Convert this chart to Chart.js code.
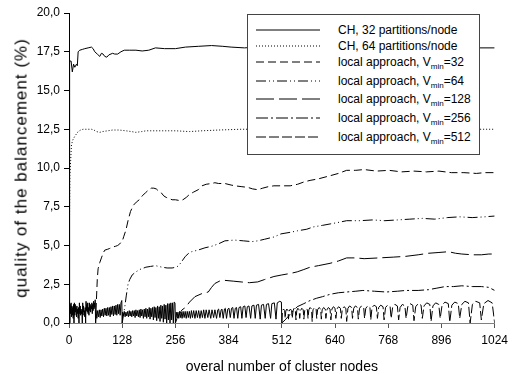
<!DOCTYPE html>
<html>
<head>
<meta charset="utf-8">
<script src="https://cdn.jsdelivr.net/npm/chart.js@4/dist/chart.umd.min.js"></script>
<style>
  html, body { margin: 0; padding: 0; background: #fff; }
  #wrap { position: relative; width: 513px; height: 374px; overflow: hidden; }
  #chart { display: block; }
  #ytitle {
    position: absolute; left: 21px; top: 168px;
    transform: translate(-50%, -50%) rotate(-90deg);
    font-family: 'Liberation Sans', Arial, sans-serif; font-size: 17px; letter-spacing: 1px;
    white-space: nowrap; color: #000; line-height: 17px;
  }
  #legend {
    position: absolute; left: 247px; top: 14px; width: 231px; height: 139px;
    border: 1px solid #444; background: #fff;
    font-family: 'Liberation Sans', Arial, sans-serif; font-size: 12px; color: #000;
  }
  #legend svg { position: absolute; left: 8px; width: 64px; height: 4px; overflow: visible; }
  #legend span { position: absolute; left: 90px; line-height: 14px; white-space: nowrap; }
  #legend sub { font-size: 8px; vertical-align: -3px; line-height: 0; }
</style>
</head>
<body>
<div id="wrap">
  <canvas id="chart" width="513" height="374"></canvas>
  <div id="ytitle">quality of the balancement (%)</div>
  <div id="legend"></div>
</div>
<script>
// Axis ticks
const nodeTicks = [0, 128, 256, 384, 512, 640, 768, 896, 1024];
const qualityTicks = [0, 2.5, 5, 7.5, 10, 12.5, 15, 17.5, 20];

// Consistent hashing, 32 partitions per node
const ch32Nodes = [0,1,2,5,8,11,14,18,20,22,26,32,38,46,54,58,62,68,74,78,82,86,91,96,105,110,117,125,133,145,161,176,192,208,230,256,280,311,343,370,390,422,450,500,560,620,700,780,860,940,1024];
const ch32Values = [0.2,8,16.9,16.9,16.2,16.7,16.5,16.7,16.6,17.5,17.6,17.65,17.7,17.75,17.8,17.7,17.5,17.35,17.2,17.4,17.35,17.2,17.15,17.3,17.4,17.35,17.35,17.5,17.6,17.6,17.6,17.55,17.6,17.75,17.7,17.7,17.8,17.85,17.9,17.85,17.8,17.75,17.8,17.8,17.8,17.75,17.75,17.75,17.75,17.75,17.75];

// Consistent hashing, 64 partitions per node
const ch64Nodes = [0,1,2,4,6,9,14,18,22,28,34,44,54,60,66,74,81,93,105,120,137,150,161,175,185,220,256,290,320,360,414,460,520,600,700,800,900,1024];
const ch64Values = [0,6,9.5,10.5,11.5,11.8,12.05,12.2,12.35,12.45,12.5,12.5,12.5,12.45,12.35,12.3,12.35,12.4,12.45,12.45,12.4,12.35,12.3,12.35,12.4,12.4,12.4,12.35,12.4,12.45,12.5,12.5,12.5,12.5,12.5,12.5,12.5,12.5];

// Local approach, Vmin = 32
const vmin32Nodes = [64,66,68,70,74,78,82,86,92,97,105,112,117,122,129,132,137,142,148,155,162,169,176,184,192,198,204,210,216,222,228,234,240,248,256,266,274,282,290,300,311,320,330,343,351,360,375,390,400,414,430,442,454,466,480,493,510,532,550,565,580,600,628,648,668,690,710,740,770,800,830,860,890,920,950,980,1000,1024];
const vmin32Values = [0,1.5,2.8,3.5,3.9,4.2,4.5,4.7,4.75,4.8,4.9,4.95,5.0,5.1,5.35,5.6,6.0,6.6,7.2,7.6,7.8,7.95,8.2,8.4,8.6,8.7,8.7,8.65,8.5,8.4,8.2,8.1,8.05,7.95,7.95,7.9,7.95,8.1,8.3,8.45,8.6,8.85,8.95,9.0,9.05,9.0,9.0,8.9,8.85,8.8,8.75,8.65,8.6,8.7,8.8,8.85,8.85,8.85,8.95,9.1,9.2,9.3,9.5,9.65,9.85,9.85,9.9,9.8,9.85,9.75,9.8,9.75,9.8,9.7,9.7,9.65,9.7,9.7];

// Local approach, Vmin = 64
const vmin64Nodes = [128,131,134,138,142,146,152,161,170,185,196,208,216,224,236,248,258,264,272,280,288,295,310,327,343,359,375,398,420,440,454,470,493,510,532,550,572,588,610,630,650,668,700,730,760,790,820,850,880,910,940,970,1000,1024];
const vmin64Values = [0,0.5,1.0,1.8,2.5,2.8,3.1,3.3,3.45,3.6,3.65,3.7,3.65,3.6,3.55,3.55,3.6,3.7,4.0,4.3,4.5,4.6,4.7,4.85,4.95,5.1,5.3,5.35,5.3,5.25,5.3,5.4,5.55,5.75,5.85,5.95,6.05,6.2,6.3,6.4,6.5,6.6,6.6,6.65,6.6,6.65,6.7,6.75,6.7,6.8,6.85,6.8,6.85,6.9];

// Local approach, Vmin = 128
const vmin128Nodes = [256,260,266,272,280,290,303,320,335,343,351,362,375,395,414,434,454,470,493,512,533,549,565,580,600,628,648,668,690,710,746,780,810,840,865,890,913,930,945,970,992,1010,1024];
const vmin128Values = [0,0.3,0.6,0.85,1.0,1.35,1.7,1.9,2.0,2.3,2.55,2.7,2.75,2.7,2.65,2.6,2.65,2.8,3.0,3.1,3.2,3.3,3.45,3.6,3.7,3.85,4.0,4.2,4.2,4.15,4.2,4.25,4.3,4.4,4.5,4.55,4.6,4.5,4.45,4.4,4.4,4.45,4.45];

// Local approach, Vmin = 256
const vmin256Nodes = [512,520,530,540,549,565,580,596,610,628,648,668,690,707,735,763,790,810,840,865,885,905,925,945,970,992,1010,1024];
const vmin256Values = [0,0.2,0.5,0.8,1.05,1.25,1.45,1.6,1.7,1.85,1.95,2.0,2.05,2.1,2.05,2.0,2.05,2.1,2.1,2.15,2.25,2.35,2.35,2.4,2.35,2.35,2.3,2.1];

// Local approach, Vmin = 512: [nodes, quality] readings, sawtooth below 512 nodes, arches above
const vmin512Trace = [
  [0,0],[1,1.3],[2,0],[3,1.2],[4,0.6],[5,1.3],[6,0.4],[7,1.1],[8,0.5],[9,1.0],[10,0.3],[11,1.2],[12,0],[13,1.3],[14,0.5],[15,1.2],[16,0.7],[17,1.0],[18,0.4],[19,1.1],[20,0.6],[21,0.9],[22,0.3],[23,1.0],[24,0],[25,1.3],[26,0.6],[27,1.1],[28,0.5],[29,0.9],[30,0.6],[31,0.8],[32,0],[33,1.3],[34,0.7],[35,1.1],[36,0.5],[37,0.8],[38,0.4],[39,1.0],[40,0],[41,1.4],[42,0.8],[43,1.2],[44,0.7],[45,1.3],[46,0.6],[47,1.0],[48,0.5],[49,1.3],[50,0.8],[51,1.2],[52,0.7],[53,1.1],[54,0.9],[55,1.3],[56,0.6],[57,1.2],[58,0.8],[59,1.4],[60,0.9],[61,1.3],[62,1.0],[63,1.5],[64,0],
  [65,0.8],[67,0.3],[69,0.8],[71,0.4],[73,0.85],[75,0.35],[77,0.85],[79,0.45],[81,0.9],[83,0.4],[85,0.95],[87,0.5],[89,0.95],[91,0.45],[93,1.0],[95,0.5],[97,1.0],[99,0.4],[101,1.05],[103,0.55],[105,1.1],[107,0.45],[109,1.1],[111,0.55],[113,1.15],[115,0.5],[117,1.2],[119,0.6],[121,1.2],[123,0.5],[125,1.3],[127,1.45],[128,0],
  [129,0.7],[131,0.45],[133,0.75],[135,0.4],[137,0.7],[139,0.45],[141,0.75],[143,0.4],[145,0.8],[147,0.45],[149,0.75],[151,0.4],[153,0.8],[155,0.45],[157,0.8],[159,0.35],[161,0.85],[163,0.45],[165,0.8],[167,0.4],[169,0.85],[171,0.35],[173,0.9],[175,0.45],[177,0.85],[179,0.3],[181,0.9],[183,0.4],[185,0.95],[187,0.3],[189,0.9],[191,0.4],[193,1.0],[195,0.25],[197,0.95],[199,0.4],[201,1.0],[203,0.2],[205,1.05],[207,0.35],[209,1.0],[211,0.15],[213,1.1],[215,0.3],[217,1.05],[219,0.1],[221,1.15],[223,0.3],[225,1.1],[227,0.05],[229,1.2],[231,0.25],[233,1.15],[235,0],[237,1.25],[239,0.2],[241,1.25],[243,0],[245,1.3],[247,0.2],[249,1.3],[251,0],[253,1.35],[255,1.3],[256,0],
  [258,0.7],[260,0.35],[262,0.7],[264,0.3],[266,0.75],[268,0.35],[270,0.7],[272,0.3],[274.5,0.75],[277,0.35],[279.5,0.75],[282,0.3],[284.5,0.75],[287,0.35],[289.5,0.75],[292,0.3],[294.5,0.8],[297,0.35],[300,0.8],[303,0.3],[306,0.8],[309,0.35],[312,0.8],[315,0.3],[318,0.8],[321,0.35],[324,0.85],[327,0.3],[330,0.85],[334,0.35],[337,0.85],[341,0.3],[344,0.85],[348,0.35],[351,0.85],[355,0.3],[358,0.85],[360,0.9],[363,0.35],[366,0.85],[368,0.9],[371,0.3],[374,0.9],[376,0.95],[379,0.3],[382,0.9],[385,0.95],[388,0.35],[391,0.95],[394,1.0],[397,0.3],[400,0.95],[403,1.0],[406,0.3],[409,1.0],[413,1.05],[416,0.3],[419,1.05],[423,1.1],[426,0.35],[429,1.05],[433,1.1],[437,0.3],[440,1.1],[445,1.15],[448,0.3],[451,1.15],[456,1.2],[460,0.25],[463,1.15],[468,1.2],[472,0.3],[475,1.2],[480,1.25],[485,0.3],[488,1.25],[494,1.3],[498,0.25],[501,1.3],[507,1.4],[511,1.35],
  [512,0],[513.6,0.77],[516,0.9],[518.8,0.81],[520,0.3],[521.6,0.77],[524,0.9],[526.8,0.81],[528,0.25],[530,0.77],[532.5,0.9],[535.5,0.81],[537,0.3],[539,0.8],[541.5,0.95],[544.5,0.85],[546,0.2],[548,0.8],[550.5,0.95],[553.5,0.85],[555,0.3],[557,0.8],[560,0.95],[563.5,0.85],[565,0.25],[567,0.8],[570,0.95],[573.5,0.85],[575,0.3],[577,0.85],[580,1.0],[583.5,0.9],[585,0.1],[587,0.85],[590.5,1.0],[594.5,0.9],[596,0.3],[598,0.85],[601.5,1.0],[605.5,0.9],[607,0.25],[609,0.85],[612.5,1.0],[616.5,0.9],[618,0.3],[620.5,0.85],[624,1.0],[628,0.9],[630,0.2],[632.5,0.9],[636,1.05],[640,0.95],[642,0.3],[644.5,0.9],[648.5,1.05],[653,0.95],[655,0.3],[657.5,0.9],[661.5,1.05],[666,0.95],[668,0.1],[671,0.95],[675,1.1],[680,1.0],[682,0.3],[685,0.95],[689,1.1],[694,1.0],[696,0.25],[699,0.95],[703.5,1.1],[709,1.0],[711,0.3],[714,0.95],[718.5,1.1],[724,1.0],[726,0.2],[729,1.0],[734,1.15],[739.5,1.05],[742,0.3],[745,1.0],[750,1.15],[755.5,1.05],[758,0.2],[761.5,1.0],[766.5,1.15],[772.5,1.05],[775,0.3],[778.5,1.0],[784,1.2],[790,1.1],[793,0.2],[796.5,1.0],[802,1.2],[808,1.1],[811,0.3],[815,1.05],[820.5,1.25],[827,1.15],[830,0.15],[834,1.05],[840,1.25],[847,1.15],[850,0.3],[854,1.1],[860.5,1.3],[868,1.2],[871,0.1],[875.5,1.1],[882,1.3],[889.5,1.2],[893,0.3],[897.5,1.15],[904.5,1.35],[912.5,1.25],[916,0.05],[921,1.15],[928,1.35],[936.5,1.25],[940,0.3],[945,1.2],[952.5,1.4],[961,1.3],[965,0],[970.5,1.2],[978.5,1.4],[988,1.3],[992,0.2],[998,1.25],[1008,1.45],[1018,1.3],[1024,0]
];

const seriesLabels = [
  'CH, 32 partitions/node',
  'CH, 64 partitions/node',
  'local approach, V_min=32',
  'local approach, V_min=64',
  'local approach, V_min=128',
  'local approach, V_min=256',
  'local approach, V_min=512'
];
const seriesDashes = [[], [1, 2], [8, 4], [10, 3, 1, 3, 1, 3], [18, 5], [12, 3, 2, 3], [10, 3]];

const toPoints = (xs, ys) => xs.map((x, i) => ({ x: x, y: ys[i] }));
const seriesData = [
  toPoints(ch32Nodes, ch32Values),
  toPoints(ch64Nodes, ch64Values),
  toPoints(vmin32Nodes, vmin32Values),
  toPoints(vmin64Nodes, vmin64Values),
  toPoints(vmin128Nodes, vmin128Values),
  toPoints(vmin256Nodes, vmin256Values),
  vmin512Trace.map(p => ({ x: p[0], y: p[1] }))
];

const FONT = "'Liberation Sans', Arial, Helvetica, sans-serif";
const fmt = v => v.toFixed(1).replace('.', ',');

const chart = new Chart(document.getElementById('chart'), {
  type: 'line',
  data: {
    datasets: seriesData.map((d, i) => ({
      label: seriesLabels[i].replace('_', ''),
      data: d,
      borderColor: '#000',
      borderWidth: 1,
      borderDash: seriesDashes[i],
      // the dense sawtooth part of the last series is drawn as a continuous line
      segment: i === 6 ? { borderDash: c => (c.p0.parsed.x < 512 ? [] : seriesDashes[6]) } : undefined,
      pointRadius: 0,
      fill: false,
      tension: 0
    }))
  },
  options: {
    responsive: false,
    animation: false,
    devicePixelRatio: 1,
    layout: { padding: { top: 13, right: 13, left: 0, bottom: 0 } },
    plugins: { legend: { display: false }, tooltip: { enabled: false } },
    scales: {
      x: {
        type: 'linear', min: 0, max: 1024,
        afterBuildTicks: s => { s.ticks = nodeTicks.map(v => ({ value: v })); },
        afterFit: s => { s.height = 51; },
        grid: { drawOnChartArea: false, drawTicks: true, tickLength: 5, color: '#555' },
        border: { color: '#808080', width: 1 },
        ticks: { font: { family: FONT, size: 12 }, color: '#000', padding: 5, maxRotation: 0, autoSkip: false,
                 callback: v => String(v) },
        title: { display: true, text: 'overal number of cluster nodes', color: '#000',
                 font: { family: FONT, size: 14, lineHeight: 1 }, padding: { top: 0, bottom: 0 } }
      },
      y: {
        min: 0, max: 20,
        afterBuildTicks: s => { s.ticks = qualityTicks.map(v => ({ value: v })); },
        afterFit: s => { s.width = 69; },
        grid: { drawOnChartArea: false, drawTicks: true, tickLength: 5, color: '#000' },
        border: { color: '#000', width: 1 },
        ticks: { font: { family: FONT, size: 12 }, color: '#000', padding: 4, callback: v => fmt(v) }
      }
    }
  }
});

// Legend with subscripted labels, built from the chart's datasets
const rowY = [15, 30.6, 47, 65.5, 84.3, 102.5, 121.5];
const legend = document.getElementById('legend');
chart.data.datasets.forEach((ds, i) => {
  const y = rowY[i];
  const svgNS = 'http://www.w3.org/2000/svg';
  const svg = document.createElementNS(svgNS, 'svg');
  svg.style.top = (y - 2) + 'px';
  const line = document.createElementNS(svgNS, 'line');
  line.setAttribute('x1', 0); line.setAttribute('x2', 64);
  line.setAttribute('y1', 2); line.setAttribute('y2', 2);
  line.setAttribute('stroke', '#000'); line.setAttribute('stroke-width', 1);
  if (ds.borderDash.length) line.setAttribute('stroke-dasharray', ds.borderDash.join(' '));
  svg.appendChild(line);
  legend.appendChild(svg);

  const span = document.createElement('span');
  span.style.top = (y - 6.9) + 'px';
  const parts = seriesLabels[i].split('_min');
  span.appendChild(document.createTextNode(parts[0]));
  if (parts.length > 1) {
    const sub = document.createElement('sub');
    sub.textContent = 'min';
    span.appendChild(sub);
    span.appendChild(document.createTextNode(parts[1]));
  }
  legend.appendChild(span);
});
</script>
</body>
</html>
